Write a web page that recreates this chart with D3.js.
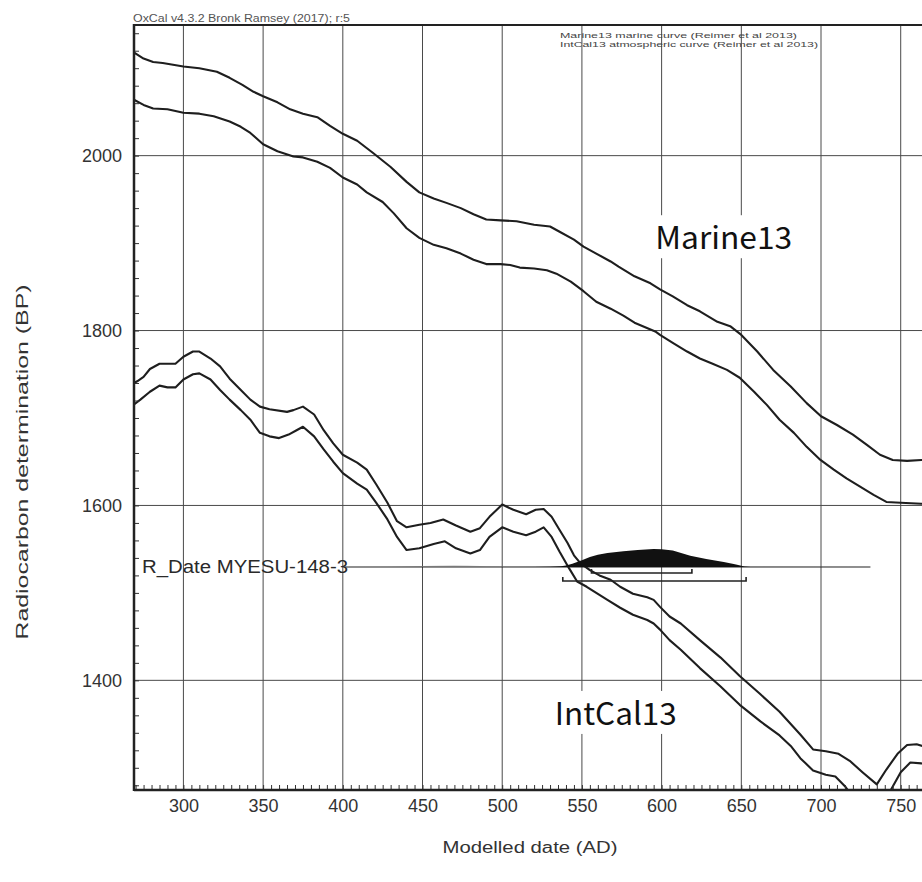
<!DOCTYPE html>
<html>
<head>
<meta charset="utf-8">
<script src="https://cdn.jsdelivr.net/npm/d3@7"></script>
<style>
  body { margin: 0; background: #fff; }
  svg { display: block; }
</style>
</head>
<body>
<svg id="chart" width="922" height="882"></svg>
<script>
// calibration curves (cal AD, 14C BP)
const marineUpperYears = [268, 275, 281, 287, 300, 310, 321, 329, 337, 344, 350, 359, 367, 375, 384, 392, 400, 409, 419, 430, 440, 448, 457, 465, 474, 482, 490, 499, 509, 520, 530, 536, 545, 551, 559, 568, 573, 583, 593, 599, 607, 616, 624, 635, 643, 650, 660, 670, 681, 691, 700, 710, 720, 729, 737, 745, 754, 763, 780];
const marineUpperBP = [2119, 2111, 2107, 2106, 2102, 2100, 2096, 2089, 2081, 2073, 2068, 2061, 2053, 2048, 2044, 2034, 2025, 2017, 2003, 1987, 1970, 1958, 1951, 1946, 1940, 1933, 1927, 1926, 1925, 1921, 1919, 1913, 1904, 1896, 1888, 1879, 1873, 1862, 1854, 1847, 1839, 1829, 1822, 1810, 1805, 1795, 1776, 1755, 1736, 1717, 1702, 1692, 1681, 1669, 1658, 1652, 1651, 1652, 1651];

const marineLowerYears = [268, 275, 281, 290, 300, 310, 319, 329, 336, 342, 350, 359, 369, 375, 384, 392, 400, 409, 415, 425, 432, 440, 448, 457, 465, 474, 482, 490, 499, 505, 511, 520, 528, 534, 543, 551, 559, 568, 576, 583, 596, 599, 607, 616, 624, 632, 641, 649, 658, 666, 674, 683, 691, 699, 708, 716, 724, 733, 741, 750, 763, 780];
const marineLowerBP = [2065, 2058, 2054, 2053, 2049, 2048, 2045, 2039, 2033, 2026, 2013, 2005, 1999, 1998, 1993, 1986, 1975, 1967, 1958, 1947, 1934, 1917, 1906, 1898, 1894, 1888, 1881, 1876, 1876, 1875, 1872, 1871, 1869, 1865, 1856, 1845, 1833, 1825, 1817, 1809, 1799, 1795, 1786, 1776, 1768, 1762, 1755, 1746, 1730, 1715, 1698, 1683, 1667, 1653, 1641, 1631, 1622, 1612, 1604, 1603, 1602, 1602];

const intcalUpperYears = [268, 271, 275, 279, 285, 295, 300, 306, 310, 317, 323, 329, 336, 342, 348, 354, 365, 369, 375, 382, 388, 394, 400, 409, 415, 421, 428, 434, 440, 448, 455, 463, 471, 480, 486, 492, 500, 507, 515, 521, 526, 531, 536, 541, 545, 549, 555, 561, 568, 574, 582, 591, 595, 599, 605, 612, 624, 637, 649, 662, 674, 687, 695, 703, 711, 718, 726, 735, 741, 748, 754, 760, 765, 780];
const intcalUpperBP = [1739, 1742, 1747, 1756, 1762, 1762, 1770, 1776, 1776, 1768, 1759, 1745, 1732, 1721, 1713, 1710, 1707, 1709, 1713, 1704, 1686, 1671, 1658, 1649, 1641, 1624, 1603, 1582, 1575, 1578, 1580, 1584, 1577, 1570, 1574, 1587, 1601, 1595, 1590, 1595, 1596, 1587, 1572, 1557, 1543, 1534, 1526, 1520, 1515, 1507, 1499, 1495, 1492, 1484, 1473, 1465, 1446, 1426, 1405, 1384, 1364, 1338, 1321, 1319, 1316, 1308, 1295, 1281, 1298, 1316, 1326, 1327, 1324, 1315];

const intcalLowerYears = [268, 273, 279, 285, 290, 295, 300, 306, 310, 317, 323, 329, 336, 342, 348, 354, 360, 366, 371, 375, 382, 388, 394, 400, 409, 415, 421, 428, 434, 440, 448, 457, 464, 471, 480, 486, 492, 500, 507, 515, 521, 526, 531, 536, 542, 547, 553, 559, 566, 574, 582, 591, 595, 599, 605, 612, 624, 637, 649, 662, 674, 681, 687, 695, 703, 709, 715, 721, 731, 738, 743, 750, 756, 763, 780];
const intcalLowerBP = [1714, 1721, 1730, 1737, 1735, 1735, 1744, 1750, 1751, 1744, 1732, 1721, 1709, 1698, 1683, 1679, 1677, 1681, 1686, 1690, 1679, 1664, 1650, 1637, 1625, 1618, 1603, 1584, 1564, 1549, 1551, 1556, 1559, 1551, 1545, 1549, 1564, 1575, 1570, 1566, 1570, 1575, 1564, 1547, 1528, 1513, 1507, 1500, 1492, 1483, 1475, 1469, 1465, 1458, 1446, 1435, 1414, 1393, 1372, 1353, 1337, 1325, 1311, 1297, 1292, 1290, 1279, 1264, 1250, 1255, 1272, 1295, 1306, 1305, 1298];

// R_Date MYESU-148-3 (relative probability)
const likeYears = [401, 430, 450, 462, 470, 478, 490, 510, 540, 580, 620, 660, 700, 731];
const likeProb = [0, 0.02, 0.05, 0.09, 0.1, 0.08, 0.04, 0.03, 0.04, 0.05, 0.04, 0.03, 0.01, 0];
const postYears = [520, 530, 537, 540, 544, 550, 555, 560, 566, 576, 585, 595, 600, 607, 618, 628, 639, 646, 652, 656];
const postProb = [0, 0.02, 0.04, 0.09, 0.18, 0.38, 0.55, 0.68, 0.78, 0.88, 0.95, 1.0, 0.98, 0.92, 0.62, 0.45, 0.28, 0.15, 0.03, 0];
const range68 = [556, 619];
const range95 = [538, 653];
const rdateSpan = [401, 731];

const xMajor = [300, 350, 400, 450, 500, 550, 600, 650, 700, 750];
const yMajor = [1400, 1600, 1800, 2000];

const svg = d3.select("svg#chart");
const W = 922, H = 882;
const margin = { top: 25, left: 134, bottom: 790 };

const x = d3.scaleLinear().domain([269, 780]).range([margin.left, margin.left + 511 * 1.594]);
const y = d3.scaleLinear().domain([1274.6, 2149.4]).range([margin.bottom, margin.top]);
const plotRight = W;

svg.append("defs").append("clipPath").attr("id", "plotClip")
    .append("rect")
    .attr("x", margin.left).attr("y", margin.top)
    .attr("width", plotRight - margin.left).attr("height", margin.bottom - margin.top);

// grid
const grid = svg.append("g").attr("stroke", "#4a4a4a").attr("stroke-width", 1);
grid.selectAll("line.v").data(xMajor).join("line").attr("class", "v")
    .attr("x1", d => x(d)).attr("x2", d => x(d))
    .attr("y1", margin.top).attr("y2", margin.bottom);
grid.selectAll("line.h").data(yMajor).join("line").attr("class", "h")
    .attr("x1", margin.left).attr("x2", plotRight)
    .attr("y1", d => y(d)).attr("y2", d => y(d));

// labels for curves, white box behind
function boxedLabel(txt, yr, bp, len) {
    const g = svg.append("g");
    const rect = g.append("rect").attr("fill", "#fff");
    const t = g.append("text")
        .attr("x", x(yr)).attr("y", y(bp))
        .attr("font-family", "'Noto Sans CJK JP', 'Noto Sans', sans-serif")
        .attr("font-size", 31)
        .attr("fill", "#111")
        .attr("textLength", len)
        .attr("lengthAdjust", "spacingAndGlyphs")
        .text(txt);
    const b = t.node().getBBox();
    rect.attr("x", b.x - 2).attr("y", b.y + 2).attr("width", b.width + 4).attr("height", b.height - 2);
}
boxedLabel("Marine13", 596, 1893, 137);
boxedLabel("IntCal13", 533, 1349, 122);

// curves
const plot = svg.append("g").attr("clip-path", "url(#plotClip)");
const line = d3.line().x(d => x(d[0])).y(d => y(d[1]));
const curves = [
    d3.zip(marineUpperYears, marineUpperBP),
    d3.zip(marineLowerYears, marineLowerBP),
    d3.zip(intcalUpperYears, intcalUpperBP),
    d3.zip(intcalLowerYears, intcalLowerBP)
];
plot.selectAll("path.curve").data(curves).join("path").attr("class", "curve")
    .attr("d", line)
    .attr("fill", "none")
    .attr("stroke", "#1e1e1e")
    .attr("stroke-width", 2.1)
    .attr("stroke-linejoin", "round");

// R_Date distribution
const base = 567;
const h = d3.scaleLinear().domain([0, 1]).range([0, 18]);
const area = d3.area().x(d => x(d[0])).y0(base).y1(d => base - h(d[1]));
plot.append("path").datum(d3.zip(likeYears, likeProb))
    .attr("d", area).attr("fill", "#c4c4c4").attr("opacity", 0.8);
plot.append("line")
    .attr("x1", x(rdateSpan[0])).attr("x2", x(rdateSpan[1]))
    .attr("y1", base).attr("y2", base)
    .attr("stroke", "#222").attr("stroke-width", 1.1);
plot.append("path").datum(d3.zip(postYears, postProb))
    .attr("d", area).attr("fill", "#111");

function bracket(r, yy) {
    plot.append("path")
        .attr("d", `M${x(r[0])},${yy - 4}V${yy}H${x(r[1])}V${yy - 4}`)
        .attr("fill", "none").attr("stroke", "#222").attr("stroke-width", 1.6);
}
bracket(range68, 573);
bracket(range95, 581);

svg.append("text")
    .attr("x", 142).attr("y", 573)
    .attr("font-family", "'Liberation Sans', Arial, sans-serif")
    .attr("font-size", 17.5).attr("fill", "#2a2a2a")
    .attr("textLength", 206).attr("lengthAdjust", "spacingAndGlyphs")
    .text("R_Date MYESU-148-3");

// axes
const yMinor = d3.axisLeft(y).tickValues(d3.range(1280, 2149, 20)).tickSize(-5).tickFormat("");
svg.append("g").attr("transform", `translate(${margin.left},0)`).call(yMinor)
    .call(g => g.select(".domain").remove())
    .selectAll("line").attr("stroke", "#333");
const yLab = d3.axisLeft(y).tickValues(yMajor).tickSize(0).tickPadding(12).tickFormat(d3.format("d"));
svg.append("g").attr("transform", `translate(${margin.left},0)`).call(yLab)
    .call(g => g.select(".domain").remove())
    .selectAll("text")
    .attr("font-family", "'Liberation Sans', Arial, sans-serif")
    .attr("font-size", 18).attr("fill", "#333");

const xMinor = d3.axisBottom(x).tickValues(d3.range(270, 781, 5)).tickSize(-5).tickFormat("");
svg.append("g").attr("transform", `translate(0,${margin.bottom})`).call(xMinor)
    .call(g => g.select(".domain").remove())
    .selectAll("line").attr("stroke", "#333");
const xLab = d3.axisBottom(x).tickValues(xMajor).tickSize(0).tickPadding(9).tickFormat(d3.format("d"));
svg.append("g").attr("transform", `translate(0,${margin.bottom})`).call(xLab)
    .call(g => g.select(".domain").remove())
    .selectAll("text")
    .attr("font-family", "'Liberation Sans', Arial, sans-serif")
    .attr("font-size", 18).attr("fill", "#333");

// frame
const frame = svg.append("g").attr("stroke", "#222").attr("fill", "none");
frame.append("line").attr("x1", margin.left).attr("x2", margin.left)
    .attr("y1", margin.top - 1).attr("y2", margin.bottom + 1).attr("stroke-width", 2.5);
frame.append("line").attr("x1", margin.left).attr("x2", plotRight)
    .attr("y1", margin.bottom).attr("y2", margin.bottom).attr("stroke-width", 2.5);
frame.append("line").attr("x1", margin.left).attr("x2", plotRight)
    .attr("y1", margin.top).attr("y2", margin.top).attr("stroke-width", 2);

// header texts
const small = "'Liberation Sans', Arial, sans-serif";
svg.append("text").attr("x", 133).attr("y", 22)
    .attr("font-family", small).attr("font-size", 10).attr("fill", "#555")
    .attr("textLength", 217).attr("lengthAdjust", "spacingAndGlyphs")
    .text("OxCal v4.3.2 Bronk Ramsey (2017); r:5");
svg.append("text").attr("x", 560).attr("y", 37.5)
    .attr("font-family", small).attr("font-size", 8).attr("fill", "#444")
    .attr("textLength", 237).attr("lengthAdjust", "spacingAndGlyphs")
    .text("Marine13 marine curve (Reimer et al 2013)");
svg.append("text").attr("x", 560).attr("y", 47)
    .attr("font-family", small).attr("font-size", 8).attr("fill", "#444")
    .attr("textLength", 258).attr("lengthAdjust", "spacingAndGlyphs")
    .text("IntCal13 atmospheric curve (Reimer et al 2013)");

// axis titles
svg.append("text")
    .attr("transform", "translate(28,462) rotate(-90)")
    .attr("text-anchor", "middle")
    .attr("font-family", small).attr("font-size", 16).attr("fill", "#333")
    .attr("textLength", 355).attr("lengthAdjust", "spacingAndGlyphs")
    .text("Radiocarbon determination (BP)");
svg.append("text")
    .attr("x", 530).attr("y", 853)
    .attr("text-anchor", "middle")
    .attr("font-family", small).attr("font-size", 16).attr("fill", "#333")
    .attr("textLength", 175).attr("lengthAdjust", "spacingAndGlyphs")
    .text("Modelled date (AD)");
</script>
</body>
</html>
